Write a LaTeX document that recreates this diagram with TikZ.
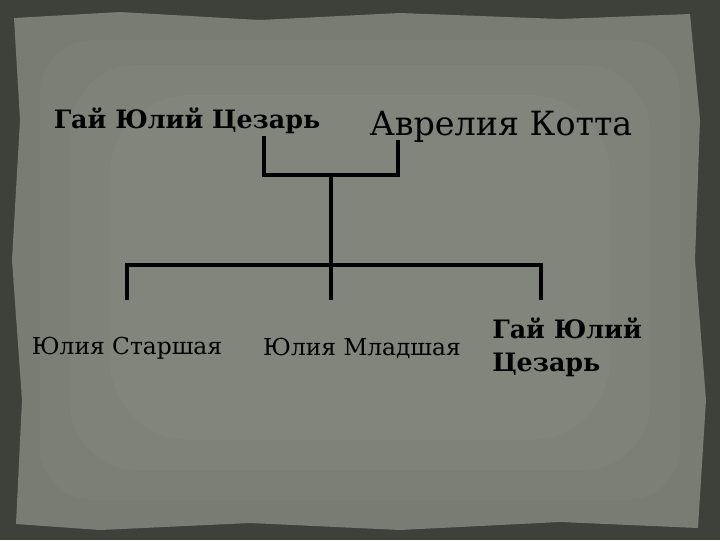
\documentclass[tikz,border=0pt]{standalone}
\usepackage{fontspec}
\setmainfont{DejaVu Serif}
\begin{document}
\begin{tikzpicture}[x=0.75pt,y=-0.75pt,
  ln/.style={line width=3pt,line cap=rect},
  txt/.style={inner sep=0pt,text=black}]
\useasboundingbox (0,0) rectangle (720,540);
\fill[color={rgb,255:red,62;green,64;blue,58}] (0,0) rectangle (720,540);
\fill[color={rgb,255:red,120;green,124;blue,114}] (14,18) -- (120,12) -- (260,20) -- (400,13) -- (560,19) -- (690,14) -- (700,120) -- (695,260) -- (706,400) -- (698,528) -- (560,522) -- (400,530) -- (250,523) -- (100,530) -- (16,524) -- (22,400) -- (12,260) -- (20,120) -- cycle;
\fill[color={rgb,255:red,123;green,127;blue,117},rounded corners=40pt] (40,40) rectangle (680,500);
\fill[color={rgb,255:red,126;green,130;blue,120},rounded corners=50pt] (70,65) rectangle (650,470);
\fill[color={rgb,255:red,129;green,133;blue,123},rounded corners=60pt] (110,95) rectangle (610,440);
\node[txt,font=\bfseries\fontsize{19}{22}\selectfont] (g) at (187,121) {Гай Юлий Цезарь};
\node[txt,font=\fontsize{25}{30}\selectfont] (a) at (501,127) {Аврелия Котта};
\node[txt,font=\fontsize{17.5}{21}\selectfont] (s) at (127,348) {Юлия Старшая};
\node[txt,font=\fontsize{17.5}{21}\selectfont] (m) at (362,348) {Юлия Младшая};
\node[txt,font=\bfseries\fontsize{19}{25}\selectfont,align=left,anchor=west] (c) at (492,347) {Гай Юлий\\Цезарь};
\coordinate (b1) at (264,138); \coordinate (b2) at (264,175);
\coordinate (b3) at (398,175); \coordinate (b4) at (398,142);
\coordinate (v1) at (331,175); \coordinate (v2) at (331,265);
\coordinate (h1) at (127,265); \coordinate (h2) at (541,265);
\draw[ln] (b1) -- (b2) -- (b3) -- (b4);
\draw[ln] (v1) -- (v2);
\draw[ln] (127,298) -- (h1) -- (h2) -- (541,298);
\draw[ln] (v2) -- (331,298);
\end{tikzpicture}
\end{document}
